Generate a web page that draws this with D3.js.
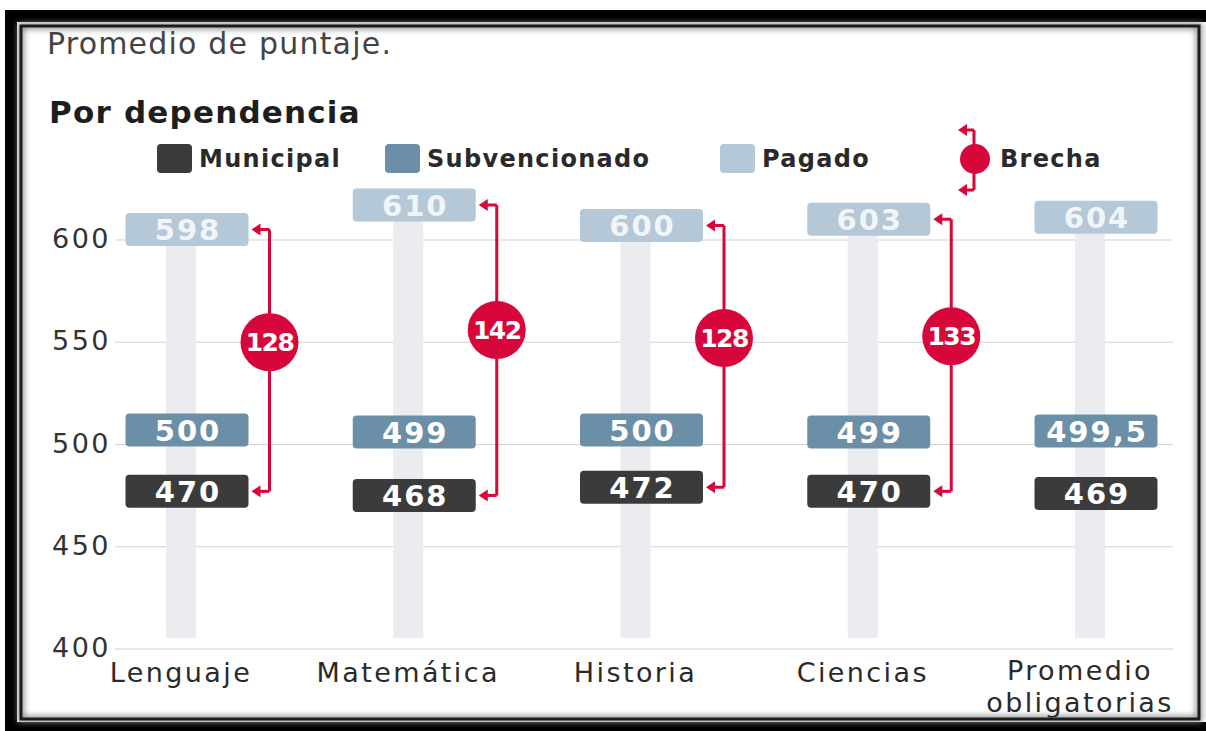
<!DOCTYPE html>
<meta charset="utf-8">
<style>
    body { margin: 0; background: #fff; }
    svg text { font-family: "DejaVu Sans", sans-serif; }
</style>
<svg width="1206" height="731"></svg>
<script src="https://d3js.org/d3.v7.min.js"></script>
<script>

    // data
    var categories = ["Lenguaje", "Matemática", "Historia", "Ciencias", "Promedio obligatorias"];
    var municipal = [470, 468, 472, 470, 469];
    var subvencionado = [500, 499, 500, 499, 499.5];
    var pagado = [598, 610, 600, 603, 604];
    var showBrecha = [true, true, true, true, false];
    var yTicks = [400, 450, 500, 550, 600];
    var seriesNames = ["Municipal", "Subvencionado", "Pagado"];
    var seriesColors = ["#3b3b3b", "#6c8fa8", "#b5c8d7"];

    var svg = d3.select("svg");

    // frame
    var defs = svg.append("defs");
    var blur = defs.append("filter").attr("id", "soft");
    blur.append("feGaussianBlur").attr("stdDeviation", 3);

    svg.append("rect").attr("x", 5).attr("y", 10).attr("width", 1201).attr("height", 721).attr("fill", "#000");
    svg.append("rect").attr("x", 17).attr("y", 22).attr("width", 1189).attr("height", 700).attr("fill", "#fff");
    svg.append("rect").attr("x", 21).attr("y", 26).attr("width", 1178).attr("height", 693)
        .attr("fill", "none").attr("stroke", "#888").attr("stroke-width", 6).attr("filter", "url(#soft)");
    svg.append("rect").attr("x", 21).attr("y", 26).attr("width", 1178).attr("height", 693)
        .attr("fill", "none").attr("stroke", "#1c1c1c").attr("stroke-width", 3);

    var clip = defs.append("clipPath").attr("id", "panel");
    clip.append("rect").attr("x", 22.5).attr("y", 27.5).attr("width", 1175).attr("height", 690);

    var g = svg.append("g").attr("clip-path", "url(#panel)");

    // titles
    g.append("text").attr("x", 47).attr("y", 54)
        .attr("font-size", 30).attr("fill", "#444").attr("letter-spacing", 1.2)
        .text("Promedio de puntaje.");
    g.append("text").attr("x", 49).attr("y", 123)
        .attr("font-size", 31).attr("font-weight", "bold").attr("fill", "#1e1e1e")
        .attr("letter-spacing", 1.2)
        .text("Por dependencia");

    // scales
    var x = d3.scalePoint().domain(categories).range([181, 1090]);
    var y = d3.scaleLinear().domain([400, 600]).range([649, 240]);

    // grid + y labels
    g.selectAll(".grid").data(yTicks).join("line")
        .attr("x1", 115).attr("x2", 1173)
        .attr("y1", function(d) { return y(d); })
        .attr("y2", function(d) { return y(d); })
        .attr("stroke", "#d2d2d2").attr("stroke-width", 1.2);

    g.selectAll(".ylab").data(yTicks).join("text")
        .attr("x", 111)
        .attr("y", function(d) { return y(d) + 8; })
        .attr("text-anchor", "end").attr("font-size", 27).attr("fill", "#333")
        .attr("letter-spacing", 2.5)
        .text(function(d) { return d; });

    // legend
    var legX = [157, 385, 720];
    seriesNames.forEach(function(name, i) {
        g.append("rect").attr("x", legX[i]).attr("y", 144).attr("width", 35).attr("height", 29)
            .attr("rx", 4).attr("fill", seriesColors[i]);
        g.append("text").attr("x", legX[i] + 42).attr("y", 167)
            .attr("font-size", 24).attr("font-weight", 600).attr("fill", "#2a2a2a")
            .attr("letter-spacing", 1.3)
            .text(name);
    });

    var red = "#d7063b";
    function hook(sel, x0, yy, len) {
        sel.append("line").attr("x1", x0).attr("x2", x0 - len + 5).attr("y1", yy).attr("y2", yy)
            .attr("stroke", red).attr("stroke-width", 3);
        sel.append("path")
            .attr("d", "M" + (x0 - len) + "," + yy + "l9,-6l0,12z")
            .attr("fill", red);
    }
    var legB = g.append("g");
    legB.append("line").attr("x1", 974).attr("x2", 974).attr("y1", 130).attr("y2", 190)
        .attr("stroke", red).attr("stroke-width", 3);
    hook(legB, 974, 130, 16);
    hook(legB, 974, 190, 16);
    legB.append("circle").attr("cx", 975).attr("cy", 159).attr("r", 15).attr("fill", red);
    legB.append("text").attr("x", 1000).attr("y", 167)
        .attr("font-size", 24).attr("font-weight", 600).attr("fill", "#2a2a2a")
        .attr("letter-spacing", 1.3).text("Brecha");

    // gray columns
    g.selectAll(".col").data(categories).join("rect")
        .attr("x", function(d) { return x(d) - 15; })
        .attr("width", 30)
        .attr("y", function(d, i) { return y(pagado[i]); })
        .attr("height", function(d, i) { return y(400) - 11 - y(pagado[i]); })
        .attr("fill", "#eaecef");

    // value boxes
    var boxW = 123, boxH = 33;
    function boxCy(v) { return y(v) - 14.5; }
    var fmt = function(v) { return String(v).replace(".", ","); };
    var series = [municipal, subvencionado, pagado];
    series.forEach(function(vals, s) {
        var grp = g.append("g");
        grp.selectAll("rect").data(categories).join("rect")
            .attr("x", function(d) { return x(d) + 6 - boxW / 2; })
            .attr("y", function(d, i) { return boxCy(vals[i]) - boxH / 2; })
            .attr("width", boxW).attr("height", boxH).attr("rx", 4)
            .attr("fill", seriesColors[s]);
        grp.selectAll("text").data(categories).join("text")
            .attr("x", function(d) { return x(d) + 7; })
            .attr("y", function(d, i) { return boxCy(vals[i]) + 10.5; })
            .attr("text-anchor", "middle").attr("font-size", 29).attr("font-weight", "bold")
            .attr("letter-spacing", 2)
            .attr("fill", s === 2 ? "#f1f5f8" : "#fff")
            .text(function(d, i) { return fmt(vals[i]); });
    });

    // brecha
    categories.forEach(function(c, i) {
        if (!showBrecha[i]) return;
        var lx = x(c) + 6 + boxW / 2 + 21;
        var top = boxCy(pagado[i]), bot = boxCy(municipal[i]);
        var b = g.append("g");
        b.append("line").attr("x1", lx).attr("x2", lx).attr("y1", top).attr("y2", bot)
            .attr("stroke", red).attr("stroke-width", 3);
        hook(b, lx, top, 18);
        hook(b, lx, bot, 18);
        var cy = top + (bot - top) * 0.43;
        b.append("circle").attr("cx", lx).attr("cy", cy).attr("r", 29).attr("fill", red);
        b.append("text").attr("x", lx).attr("y", cy + 9)
            .attr("text-anchor", "middle").attr("font-size", 25).attr("font-weight", "bold")
            .attr("fill", "#fff").attr("letter-spacing", -1.5)
            .text(pagado[i] - municipal[i]);
    });

    // x labels
    g.selectAll(".xlab").data(categories).join("text")
        .attr("x", function(d) { return x(d); })
        .attr("y", 682)
        .attr("text-anchor", "middle").attr("font-size", 27).attr("fill", "#2a2a2a")
        .attr("letter-spacing", 2.4)
        .each(function(d) {
            var words = d.split(" ");
            var t = d3.select(this);
            if (words.length > 1) {
                t.attr("y", 680);
                t.append("tspan").attr("x", x(d) - 10).text(words[0]);
                t.append("tspan").attr("x", x(d) - 10).attr("dy", 32).text(words.slice(1).join(" "));
            } else {
                t.text(d);
            }
        });

</script>
